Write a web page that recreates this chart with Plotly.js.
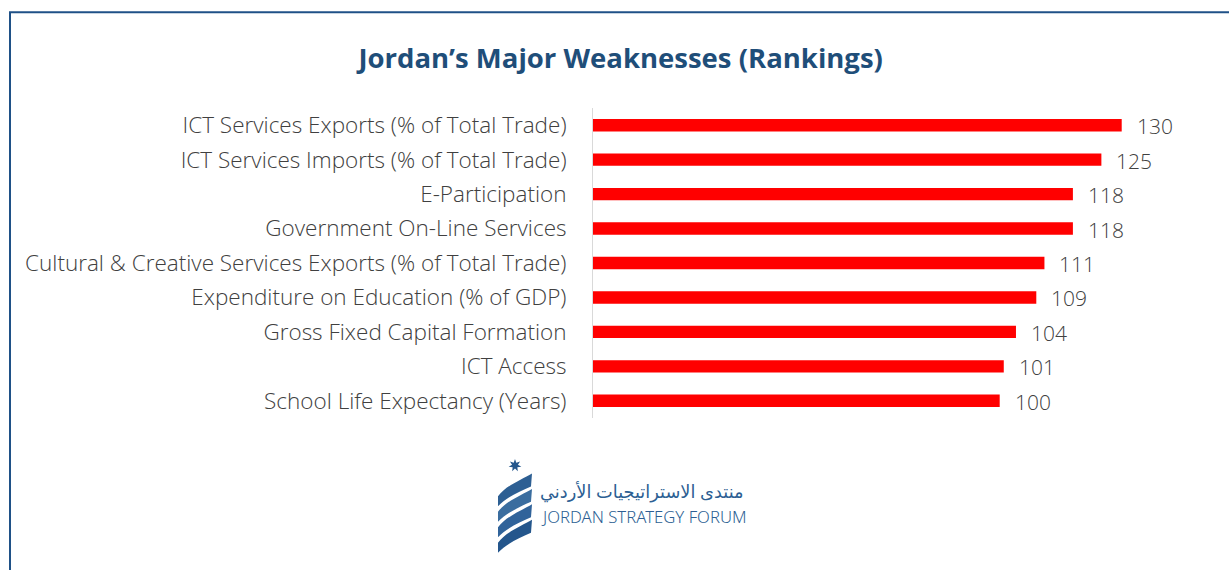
<!DOCTYPE html>
<html>
<head>
<meta charset="utf-8">
<script src="https://cdn.plot.ly/plotly-3.0.1.min.js"></script>
<style>html,body{margin:0;padding:0;background:#fff;} #chart{width:1229px;height:570px;}</style>
</head>
<body>
<div id="chart"></div>
<script>
const categories = [
  "ICT Services Exports (% of Total Trade)",
  "ICT Services Imports (% of Total Trade)",
  "E-Participation",
  "Government On-Line Services",
  "Cultural & Creative Services Exports (% of Total Trade)",
  "Expenditure on Education (% of GDP)",
  "Gross Fixed Capital Formation",
  "ICT Access",
  "School Life Expectancy (Years)"
];
const rankings = [130, 125, 118, 118, 111, 109, 104, 101, 100];
const titleText = "Jordan’s Major Weaknesses (Rankings)";
const logoArabic = "منتدى الاستراتيجيات الأردني";
const logoEnglish = "JORDAN STRATEGY FORUM";

const W = 1229, H = 570;
const M = {l: 593, r: 26, t: 108, b: 151.5};
const PW = W - M.l - M.r, PH = H - M.t - M.b;
const px = x => (x - M.l) / PW;
const py = y => (H - M.b - y) / PH;
function pathPx(cmds) {
  return cmds.map(c => {
    const L = c[0]; const nums = c.slice(1);
    const out = [];
    for (let i = 0; i < nums.length; i += 2) out.push(px(nums[i]).toFixed(5) + ',' + py(nums[i+1]).toFixed(5));
    return L + ' ' + out.join(' ');
  }).join(' ') + ' Z';
}

const blue = '#1f5187';
const shapes = [
  {type:'line', xref:'paper', yref:'paper', x0:px(10), x1:px(10), y0:py(12), y1:py(572), line:{color:blue, width:2}},
  {type:'line', xref:'paper', yref:'paper', x0:px(9), x1:px(1232), y0:py(12), y1:py(12), line:{color:blue, width:2}},
];
const bandCols = ['#2d5f93', '#3a6d9f', '#30639a', '#24568c'];
for (let k = 0; k < 4; k++) {
  const d = k * 15.5;
  shapes.push({type:'path', xref:'paper', yref:'paper', fillcolor:bandCols[k], line:{width:0},
    path: pathPx([
      ['M', 532, 474 + d],
      ['C', 522, 480 + d, 506, 486 + d, 498, 497 + d],
      ['L', 498, 507 + d],
      ['C', 506, 498 + d, 520, 492 + d, 531, 487 + d]
    ])});
}
(function(){
  const cx = 515, cy = 466, R = 6.5, r = 3;
  const pts = [];
  for (let i = 0; i < 14; i++) {
    const a = -Math.PI/2 + i * Math.PI / 7;
    const rr = i % 2 === 0 ? R : r;
    pts.push([cx + rr*Math.cos(a), cy + rr*Math.sin(a)]);
  }
  const cmds = [['M', pts[0][0], pts[0][1]]].concat(pts.slice(1).map(p => ['L', p[0], p[1]]));
  shapes.push({type:'path', xref:'paper', yref:'paper', fillcolor:'#24568c', line:{width:0}, path: pathPx(cmds)});
})();

const annotations = rankings.map((v, i) => ({
  x: v, y: categories[i], xref:'x', yref:'y', text: String(v),
  showarrow:false, xanchor:'left', yanchor:'middle', xshift:13, yshift:-1,
  font:{family:'Open Sans, sans-serif', size:21, color:'#404040', weight:300}
}));
annotations.push({xref:'paper', yref:'paper', x:px(746), y:py(492), xanchor:'right', yanchor:'middle',
  text: logoArabic, showarrow:false, font:{family:'Noto Sans, DejaVu Sans, sans-serif', size:17.8, color:'#2d5f93'}});
annotations.push({xref:'paper', yref:'paper', x:px(539), y:py(517), xanchor:'left', yanchor:'middle',
  text: logoEnglish, showarrow:false, font:{family:'Noto Sans, sans-serif', size:16.7, color:'#2d5f93', weight:300}});

const data = [{
  type:'bar', orientation:'h', x: rankings, y: categories,
  marker:{color:'#ff0000'}, hoverinfo:'none', cliponaxis:false
}];

const layout = {
  width: W, height: H,
  margin: M,
  paper_bgcolor:'#ffffff', plot_bgcolor:'#ffffff',
  showlegend:false,
  bargap: 0.64,
  title: {text: titleText, x: 0.505, xanchor:'center', y: 1 - 58/H, yanchor:'middle',
    font:{family:'Open Sans, sans-serif', size:27.5, color:'#1f4e79', weight:700}},
  xaxis: {range:[0, PW/4.067], showgrid:false, zeroline:false, showticklabels:false, showline:false, fixedrange:true},
  yaxis: {autorange:'reversed', showgrid:false, zeroline:false, showline:true, linecolor:'#d9d9d9', linewidth:1,
    ticks:'', ticklabelstandoff:21,
    tickfont:{family:'Open Sans, sans-serif', size:22.5, color:'#404040', weight:300}},
  shapes: shapes,
  annotations: annotations
};
Plotly.newPlot('chart', data, layout, {displayModeBar:false, staticPlot:true});
</script>
</body>
</html>
